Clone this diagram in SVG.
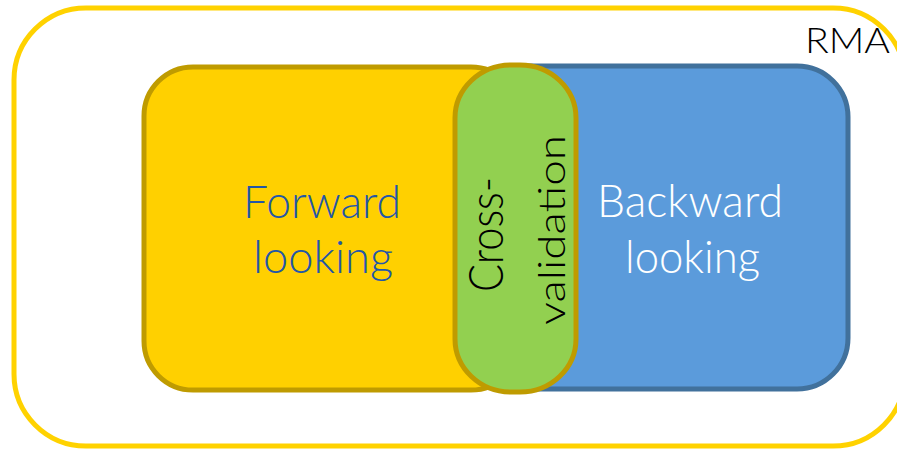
<svg xmlns="http://www.w3.org/2000/svg" width="897" height="450" viewBox="0 0 897 450">
<style>
.t{font-family:Lato,"Open Sans","Liberation Sans",sans-serif;font-weight:300;}
</style>
<rect x="0" y="0" width="897" height="450" fill="#ffffff"/>
<g id="rma">
<rect x="14" y="8" width="891" height="438" rx="72" ry="72" fill="none" stroke="#FFD200" stroke-width="5"/>
<text class="t" x="805" y="53" font-size="35" fill="#000000" textLength="85" lengthAdjust="spacingAndGlyphs">RMA</text>
</g>
<g id="forward">
<rect x="144" y="67" width="376" height="323" rx="49" ry="49" fill="#FFD000" stroke="#BF9B00" stroke-width="5"/>
<text class="t" x="243" y="218" font-size="46" fill="#2356A8" textLength="158" lengthAdjust="spacingAndGlyphs">Forward</text>
<text class="t" x="253" y="273" font-size="46" fill="#2356A8" textLength="140" lengthAdjust="spacingAndGlyphs">looking</text>
</g>
<g id="backward">
<rect x="470" y="66" width="378" height="323" rx="51" ry="51" fill="#5B9BDB" stroke="#41719C" stroke-width="5"/>
<text class="t" x="597" y="217" font-size="46" fill="#ffffff" textLength="186" lengthAdjust="spacingAndGlyphs">Backward</text>
<text class="t" x="625" y="273" font-size="46" fill="#ffffff" textLength="135" lengthAdjust="spacingAndGlyphs">looking</text>
</g>
<g id="cross">
<rect x="455" y="65" width="121" height="327" rx="56" ry="53" fill="#92D050" stroke="#BF9B00" stroke-width="5"/>
<text class="t" transform="translate(503,292) rotate(-90)" font-size="48" fill="#000000" textLength="115" lengthAdjust="spacingAndGlyphs">Cross-</text>
<text class="t" transform="translate(565,325) rotate(-90)" font-size="38" fill="#000000" textLength="190" lengthAdjust="spacingAndGlyphs">validation</text>
</g>
<g id="connectors"></g>
</svg>
